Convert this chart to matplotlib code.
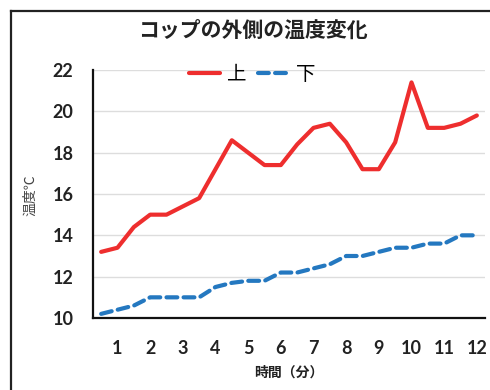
import numpy as np
import matplotlib
matplotlib.use('Agg')
import matplotlib.pyplot as plt
from matplotlib.lines import Line2D

plt.rcParams['font.family'] = ['Noto Sans CJK JP', 'DejaVu Sans']

# readings every 30 seconds (minutes)
minutes = np.arange(1, 25) / 2
upper = [13.2, 13.4, 14.4, 15.0, 15.0, 15.4, 15.8, 17.2, 18.6, 18.0, 17.4, 17.4,
         18.4, 19.2, 19.4, 18.5, 17.2, 17.2, 18.5, 21.4, 19.2, 19.2, 19.4, 19.8]
lower = [10.2, 10.4, 10.6, 11.0, 11.0, 11.0, 11.0, 11.5, 11.7, 11.8, 11.8, 12.2,
         12.2, 12.4, 12.6, 13.0, 13.0, 13.2, 13.4, 13.4, 13.6, 13.6, 14.0, 14.0]
xticks = list(range(1, 13))
yticks = list(range(10, 23, 2))

red = '#EE2E2E'
blue = '#2478C0'

fig = plt.figure(figsize=(4.9, 3.9), dpi=100)
ax = fig.add_axes([93 / 490, 1 - 318 / 390, 392 / 490, 248 / 390])

ax.plot(minutes, upper, color=red, lw=3, solid_capstyle='round',
        solid_joinstyle='round', label='上', zorder=3)
ax.plot(minutes, lower, color=blue, lw=3, dashes=(2.6, 1.5),
        dash_capstyle='round', label='下', zorder=3)

ax.set_xlim(0.25, 12.25)
ax.set_ylim(10, 22)
ax.set_xticks(xticks)
ax.set_yticks(yticks)
ax.grid(axis='y', color='#DDDDDD', lw=1)
ax.set_axisbelow(True)
for s in ['top', 'right']:
    ax.spines[s].set_visible(False)
for s in ['left', 'bottom']:
    ax.spines[s].set_linewidth(1.6)
    ax.spines[s].set_color('#111111')
ax.tick_params(length=0, labelsize=13, colors='#222222')
ax.tick_params(axis='x', pad=16)
ax.tick_params(axis='y', pad=14)
for t in ax.get_xticklabels() + ax.get_yticklabels():
    t.set_family(['Lato', 'DejaVu Sans'])
    t.set_fontweight('bold')

ax.set_xlabel('時間（分）', fontsize=10, fontweight='bold', color='#222222',
              labelpad=6)
fig.text(30 / 490, 1 - 195 / 390, '温度℃', rotation=90, fontsize=10,
         color='#444444', ha='center', va='center')

fig.text(253 / 490, 1 - 30 / 390, 'コップの外側の温度変化', fontsize=15,
         fontweight='bold', color='#222222', ha='center', va='center')

fig.legend(loc='center', bbox_to_anchor=(252 / 490, 1 - 74 / 390), ncol=2,
           frameon=False, fontsize=14, handlelength=1.6, handletextpad=0.35,
           columnspacing=0.6, borderpad=0)

# chart frame
fig.add_artist(Line2D([10.5 / 490, 10.5 / 490], [0, 1 - 11 / 390],
                      transform=fig.transFigure, color='#222222', lw=1.6))
fig.add_artist(Line2D([10.5 / 490, 1], [1 - 11 / 390, 1 - 11 / 390],
                      transform=fig.transFigure, color='#222222', lw=1.6))

fig.savefig('out.png', dpi=100, facecolor='white')
